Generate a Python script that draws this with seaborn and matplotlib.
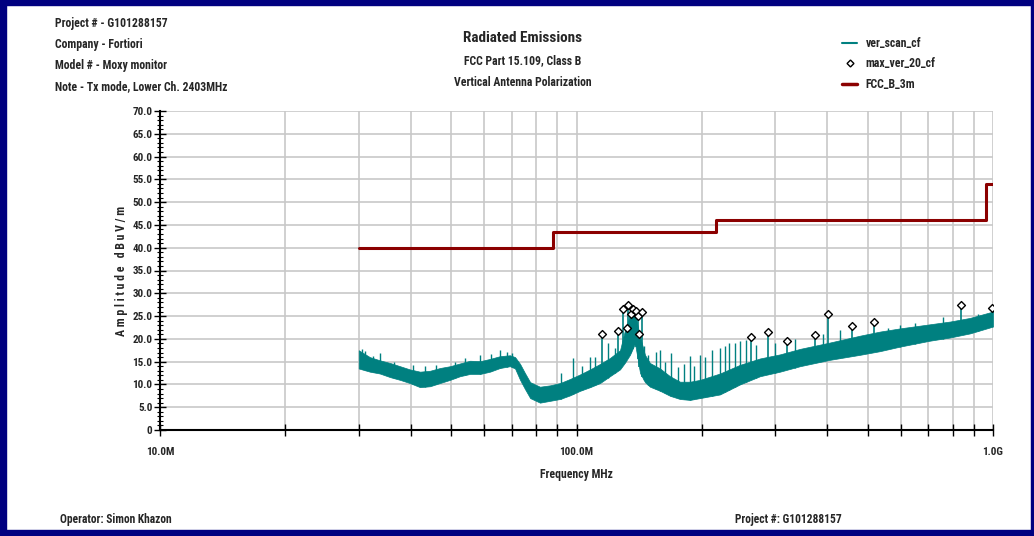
import numpy as np
import pandas as pd
import matplotlib
matplotlib.use("Agg")
import matplotlib.pyplot as plt
import matplotlib.ticker as mticker
from matplotlib.patches import Rectangle
from matplotlib.lines import Line2D
import seaborn as sns

# ---------------- data ----------------
# ver_scan_cf envelope (MHz, upper dB, lower dB)
scan_freq = [30.0, 31.9, 33.7, 35.7, 37.7, 39.8, 42.1, 44.5, 47.0, 49.7, 52.5, 55.5,
             58.7, 62.0, 65.5, 69.2, 71.2, 73.2, 75.2, 77.4, 81.7, 86.4, 91.3, 96.5,
             102.0, 107.8, 113.9, 120.3, 127.2, 130.8, 134.4, 138.2, 142.1, 146.0,
             150.1, 158.7, 167.7, 177.2, 187.3, 197.9, 221.0, 246.9, 275.8, 308.1,
             344.1, 406.1, 479.5, 535.5, 598.1, 705.9, 788.6, 880.8, 1000.0]
scan_hi = [17.5, 16.0, 15.3, 14.7, 14.0, 13.3, 12.8, 13.0, 13.6, 14.0, 14.6, 15.2,
           15.1, 15.6, 16.2, 16.4, 16.0, 14.5, 12.5, 10.5, 9.5, 9.8, 10.3, 11.2,
           12.2, 13.3, 14.5, 15.8, 17.5, 22.0, 25.3, 25.5, 20.5, 16.5,
           14.7, 13.5, 11.8, 10.6, 10.6, 11.0, 12.4, 14.3, 15.7, 16.6,
           17.8, 19.2, 20.7, 21.6, 22.3, 23.2, 23.8, 24.6, 26.0]
scan_lo = [13.5, 12.8, 12.4, 11.6, 11.0, 10.3, 9.4, 9.6, 10.3, 11.0, 11.8, 12.3,
           12.3, 12.8, 13.6, 14.0, 13.5, 11.0, 9.0, 7.0, 6.0, 6.4, 6.8, 7.6,
           8.6, 9.4, 10.3, 11.8, 13.3, 14.8, 16.5, 19.0, 12.5, 10.5,
           9.5, 8.6, 7.5, 6.8, 6.6, 7.0, 7.8, 10.0, 11.8, 12.8,
           14.0, 15.4, 16.5, 17.3, 18.3, 19.6, 20.3, 21.2, 22.7]

# isolated scan spikes without markers (MHz, dB)
spike_freq = [30.6, 31.1, 32.5, 33.7, 36.5, 40.5, 43.3, 46.0, 51.0, 54.0, 58.7, 62.5,
              65.5, 68.0, 70.0, 92.0, 98.1, 103.0, 107.8, 111.0, 119.0, 123.7, 145.0,
              148.5, 154.8, 158.7, 163.0, 168.2, 175.0, 181.0, 187.3, 192.0, 197.9,
              204.0, 211.4, 221.0, 227.3, 232.4, 240.2, 246.9, 255.3, 270.0, 300.0,
              335.0, 390.0, 430.0, 560.0, 598.1, 650.0, 760.0, 920.0]
spike_top = [17.8, 17.3, 16.2, 17.0, 15.0, 14.2, 14.0, 14.3, 15.0, 15.8, 16.5, 16.6,
             17.5, 17.2, 16.8, 12.5, 15.7, 14.0, 16.0, 16.0, 19.0, 18.0, 18.5,
             16.5, 17.2, 17.6, 15.0, 17.0, 13.8, 14.5, 16.2, 14.0, 16.5,
             16.0, 17.6, 18.1, 18.4, 19.0, 19.2, 19.6, 19.7, 18.6, 19.0,
             20.0, 21.0, 22.0, 22.4, 23.0, 23.5, 24.8, 25.5]

# max_ver_20_cf peaks (MHz, dB)
peak_freq = [115.1, 126.0, 129.5, 133.2, 132.4, 135.1, 136.4, 138.7, 140.2, 141.3,
             143.9, 262.4, 287.8, 320.2, 373.8, 402.3, 459.4, 517.1, 839.3, 996.0]
peak_val = [21.0, 21.7, 26.6, 27.4, 22.3, 25.5, 26.5, 26.2, 25.1, 21.0,
            25.8, 20.4, 21.6, 19.6, 20.9, 25.5, 22.8, 23.6, 27.5, 26.8]

# FCC_B_3m limit
limit_edges = [30, 88, 216, 960, 1000]
limit_levels = [40.0, 43.5, 46.0, 54.0]

x_tick_vals = [10, 100, 1000]
x_tick_labels = ["10.0M", "100.0M", "1.0G"]

header_lines = ["Project # - G101288157", "Company - Fortiori",
                "Model # - Moxy monitor", "Note - Tx mode, Lower Ch. 2403MHz"]
title_lines = ["Radiated Emissions", "FCC Part 15.109, Class B",
               "Vertical Antenna Polarization"]
legend_labels = ["ver_scan_cf", "max_ver_20_cf", "FCC_B_3m"]

# ---------------- style ----------------
sns.set_theme(style="white")
FONT = ["Roboto Condensed", "DejaVu Sans"]
plt.rcParams["font.family"] = FONT
plt.rcParams["font.weight"] = "bold"

TEAL = "#008080"
RED = "#8b0000"
GRID = "#c8c8c8"
NAVY = "#000080"

W, H = 1034, 536
fig = plt.figure(figsize=(W / 100, H / 100), dpi=100)
fig.patch.set_facecolor("white")
ax = fig.add_axes([160 / W, 1 - 430 / H, (993 - 160) / W, (430 - 111) / H])

ax.set_xscale("log")
ax.set_xlim(10, 1000)
ax.set_ylim(0, 70)

ax.xaxis.set_major_locator(mticker.FixedLocator(x_tick_vals))
ax.xaxis.set_minor_locator(mticker.LogLocator(base=10, subs=np.arange(2, 10)))
ax.xaxis.set_major_formatter(mticker.FixedFormatter(x_tick_labels))
ax.xaxis.set_minor_formatter(mticker.NullFormatter())
ax.yaxis.set_major_locator(mticker.MultipleLocator(5))
ax.yaxis.set_minor_locator(mticker.MultipleLocator(1))
ax.yaxis.set_major_formatter(mticker.FuncFormatter(lambda v, p: "0" if v == 0 else f"{v:.1f}"))
ax.grid(True, which="both", axis="x", color=GRID, lw=1.2)
ax.grid(True, which="major", axis="y", color=GRID, lw=1.2)
ax.set_axisbelow(True)

for s in ["top", "right"]:
    ax.spines[s].set_visible(False)
for s in ["left", "bottom"]:
    ax.spines[s].set_color("black")
    ax.spines[s].set_linewidth(1.5)

ax.tick_params(axis="x", which="both", direction="inout", length=9, width=1,
               color="black", labelsize=8, pad=8, bottom=True)
ax.tick_params(axis="y", which="major", direction="inout", length=9, width=1,
               color="black", labelsize=8, pad=1, left=True)
ax.tick_params(axis="y", which="minor", direction="inout", length=5, width=0.8,
               color="black", left=True)
for lab in ax.get_xticklabels() + ax.get_yticklabels():
    lab.set_fontweight("bold")

# scan band
ax.fill_between(scan_freq, scan_lo, scan_hi, color=TEAL, lw=0.5, edgecolor=TEAL, zorder=2)
spike_base = np.interp(spike_freq, scan_freq, scan_lo)
ax.vlines(spike_freq, spike_base, spike_top, color=TEAL, lw=1.0, zorder=2)
peak_base = np.interp(peak_freq, scan_freq, scan_lo)
ax.vlines(peak_freq, peak_base, peak_val, color=TEAL, lw=1.2, zorder=2)

# limit
lim_df = pd.DataFrame({"f": limit_edges, "v": limit_levels + [limit_levels[-1]]})
sns.lineplot(data=lim_df, x="f", y="v", drawstyle="steps-post", color=RED, lw=2.2,
             ax=ax, zorder=3, legend=False)

# peaks
pk_df = pd.DataFrame({"f": peak_freq, "v": peak_val})
sns.scatterplot(data=pk_df, x="f", y="v", marker="D", s=16, facecolor="white",
                edgecolor="black", linewidth=1.0, ax=ax, zorder=4, legend=False)

ax.set_xlabel("Frequency MHz", fontsize=8.5, fontweight="bold", labelpad=8)
ax.set_ylabel("A m p l i t u d e   d B u V / m", fontsize=8.5, fontweight="bold", labelpad=3)

# header texts
for i, t in enumerate(header_lines):
    fig.text(55 / W, 1 - (24 + i * 20.8) / H, t, fontsize=8.5, fontweight="bold",
             va="center", ha="left")
fig.text(523 / W, 1 - 38 / H, title_lines[0], fontsize=11, fontweight="bold",
         ha="center", va="center")
fig.text(523 / W, 1 - 61 / H, title_lines[1], fontsize=8.5, fontweight="bold",
         ha="center", va="center")
fig.text(523 / W, 1 - 83 / H, title_lines[2], fontsize=8.5, fontweight="bold",
         ha="center", va="center")

# legend
handles = [Line2D([], [], color=TEAL, lw=1.5),
           Line2D([], [], ls="none", marker="D", ms=3.5, mfc="white", mec="black", mew=1),
           Line2D([], [], color=RED, lw=2.5)]
fig.legend(handles, legend_labels, loc="upper left", bbox_to_anchor=(835 / W, 1 - 30 / H),
           frameon=False, handlelength=1.3, handletextpad=0.7, labelspacing=0.62,
           borderaxespad=0.2, prop={"size": 8.5, "weight": "bold", "family": FONT})

# footer
fig.text(60 / W, 1 - 519 / H, "Operator: Simon Khazon", fontsize=8.3, fontweight="bold",
         ha="left", va="center")
fig.text(735 / W, 1 - 519 / H, "Project #: G101288157", fontsize=8.3, fontweight="bold",
         ha="left", va="center")

# navy frame
for (x0, y0, w, h) in [(0, 0, W, 5), (0, 0, 6, H), (0, H - 6, W, 6), (W - 3, 0, 3, H)]:
    fig.patches.append(Rectangle((x0 / W, 1 - (y0 + h) / H), w / W, h / H,
                                 transform=fig.transFigure, color=NAVY, zorder=10))

fig.savefig("out.png", dpi=100)
